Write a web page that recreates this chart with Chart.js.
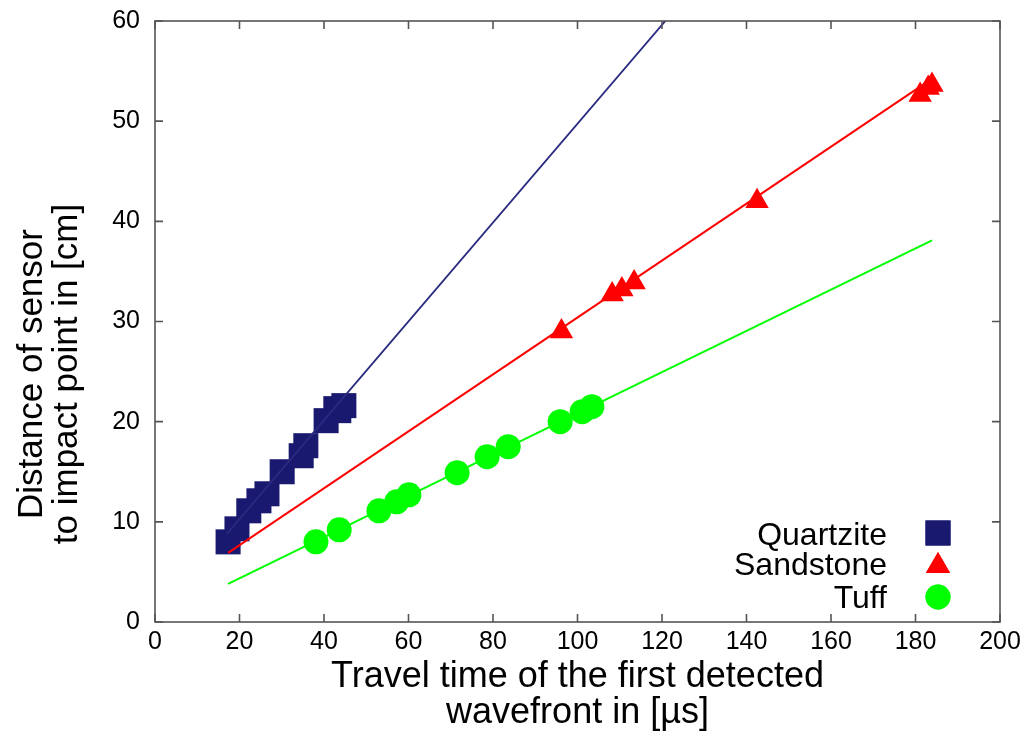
<!DOCTYPE html>
<html>
<head>
<meta charset="utf-8">
<title>Travel time vs distance</title>
<script src="https://cdn.jsdelivr.net/npm/chart.js@4.4.1/dist/chart.umd.min.js"></script>
<style>
  html, body { margin: 0; padding: 0; background: #ffffff; }
  #wrap { width: 1031px; height: 732px; position: relative; }
</style>
</head>
<body>
<div id="wrap"><canvas id="chart"></canvas></div>
<script>
// ── DATA ─────────────────────────────────────────────────────
const quartziteX = [17.3, 19.4, 22.2, 24.6, 26.5, 30.1, 34.6, 35.7, 40.5, 42.8, 43.5, 44.7];
const quartziteY = [8.0, 9.3, 11.1, 12.1, 12.8, 15.0, 16.6, 17.6, 20.1, 21.3, 21.1, 21.6];

const sandstoneX = [96.2, 108.2, 110.5, 113.4, 142.5, 181.1, 183.0, 183.9];
const sandstoneY = [29.0, 32.7, 33.2, 33.9, 42.0, 52.6, 53.3, 53.6];

const tuffX = [38.1, 43.6, 53.0, 57.2, 60.1, 71.5, 78.6, 83.6, 95.9, 101.1, 103.4];
const tuffY = [8.0, 9.2, 11.1, 12.0, 12.7, 14.9, 16.5, 17.5, 20.0, 21.0, 21.5];

// fitted lines, endpoints as drawn in the plot
const quartziteFitX = [17.0, 122.0];
const quartziteFitY = [8.8, 60.6];
const sandstoneFitX = [17.3, 183.4];
const sandstoneFitY = [6.9, 54.1];
const tuffFitX = [17.3, 183.9];
const tuffFitY = [3.8, 38.1];

const seriesNames = ['Quartzite', 'Sandstone', 'Tuff'];
const xTicks = [0, 20, 40, 60, 80, 100, 120, 140, 160, 180, 200];
const yTicks = [0, 10, 20, 30, 40, 50, 60];
const xTitle = ['Travel time of the first detected', 'wavefront in [µs]'];
const yTitle = ['Distance of sensor', 'to impact point in [cm]'];

const C_QUARTZ = '#191970';
const C_SAND = '#ff0000';
const C_TUFF = '#00ff00';
const FONT = "'Liberation Sans', Arial, Helvetica, sans-serif";

const pts = (xs, ys) => xs.map((x, i) => ({ x, y: ys[i] }));

// ── frame, inward ticks, axis titles and legend (gnuplot style) ──
const framePlugin = {
  id: 'frame',
  afterDraw(chart) {
    const { ctx, chartArea: a, scales } = chart;
    ctx.save();
    ctx.strokeStyle = '#555555';
    ctx.lineWidth = 1.6;
    ctx.strokeRect(a.left, a.top, a.right - a.left, a.bottom - a.top);
    const tl = 8;
    ctx.beginPath();
    xTicks.forEach(v => {
      const px = scales.x.getPixelForValue(v);
      ctx.moveTo(px, a.bottom); ctx.lineTo(px, a.bottom - tl);
      ctx.moveTo(px, a.top); ctx.lineTo(px, a.top + tl);
    });
    yTicks.forEach(v => {
      const py = scales.y.getPixelForValue(v);
      ctx.moveTo(a.left, py); ctx.lineTo(a.left + tl, py);
      ctx.moveTo(a.right, py); ctx.lineTo(a.right - tl, py);
    });
    ctx.stroke();

    // axis titles
    ctx.fillStyle = '#000000';
    ctx.font = `36px ${FONT}`;
    ctx.textAlign = 'center';
    ctx.textBaseline = 'alphabetic';
    const cx = (a.left + a.right) / 2;
    ctx.fillText(xTitle[0], cx, 687);
    ctx.fillText(xTitle[1], cx, 723);

    ctx.save();
    ctx.translate(0, 374);
    ctx.rotate(-Math.PI / 2);
    ctx.font = `35px ${FONT}`;
    ctx.fillText(yTitle[0], 0, 42);
    ctx.fillText(yTitle[1], 0, 77);
    ctx.restore();

    // legend, bottom right inside the plot
    const rows = [
      { style: 'rect', color: C_QUARTZ, r: 17.7, y: 533, base: 545 },
      { style: 'triangle', color: C_SAND, r: 14, y: 566, base: 575 },
      { style: 'circle', color: C_TUFF, r: 12.5, y: 597, base: 608 },
    ];
    ctx.font = `32px ${FONT}`;
    ctx.textAlign = 'right';
    rows.forEach((row, i) => {
      ctx.fillStyle = '#000000';
      ctx.fillText(seriesNames[i], 887, row.base);
      ctx.fillStyle = row.color;
      Chart.helpers.drawPoint(ctx, { pointStyle: row.style, radius: row.r, rotation: 0, borderWidth: 0 }, 938, row.y);
      ctx.fill();
    });
    ctx.restore();
  }
};

new Chart(document.getElementById('chart'), {
  type: 'scatter',
  data: {
    datasets: [
      {
        label: 'Tuff',
        data: pts(tuffX, tuffY),
        pointStyle: 'circle', pointRadius: 12.5, pointHoverRadius: 12.5,
        backgroundColor: C_TUFF, borderColor: C_TUFF, pointBorderWidth: 0,
        order: 1,
      },
      {
        label: 'Sandstone',
        data: pts(sandstoneX, sandstoneY),
        pointStyle: 'triangle', pointRadius: 13.5, pointHoverRadius: 13.5,
        backgroundColor: C_SAND, borderColor: C_SAND, pointBorderWidth: 0,
        order: 2,
      },
      {
        label: 'Tuff fit', type: 'line',
        data: pts(tuffFitX, tuffFitY),
        borderColor: C_TUFF, borderWidth: 2, pointRadius: 0, fill: false,
        order: 3,
      },
      {
        label: 'Sandstone fit', type: 'line',
        data: pts(sandstoneFitX, sandstoneFitY),
        borderColor: C_SAND, borderWidth: 2, pointRadius: 0, fill: false,
        order: 4,
      },
      {
        label: 'Quartzite fit', type: 'line',
        data: pts(quartziteFitX, quartziteFitY),
        borderColor: '#2a2a80', borderWidth: 1.8, pointRadius: 0, fill: false,
        order: 5,
      },
      {
        label: 'Quartzite',
        data: pts(quartziteX, quartziteY),
        pointStyle: 'rect', pointRadius: 17.7, pointHoverRadius: 17.7,
        backgroundColor: C_QUARTZ, borderColor: C_QUARTZ, pointBorderWidth: 0,
        order: 6,
      },
    ]
  },
  options: {
    responsive: true,
    maintainAspectRatio: false,
    animation: false,
    layout: { padding: { top: 21, right: 31, left: 0, bottom: 0 } },
    scales: {
      x: {
        type: 'linear', min: 0, max: 200,
        afterFit: s => { s.height = 110; s.paddingLeft = 0; s.paddingRight = 0; },
        afterBuildTicks: s => { s.ticks = xTicks.map(v => ({ value: v })); },
        grid: { display: false, drawTicks: false },
        border: { display: false },
        ticks: { padding: 5, maxRotation: 0, color: '#000000', font: { family: FONT, size: 25 } },
      },
      y: {
        type: 'linear', min: 0, max: 60,
        afterFit: s => { s.width = 155; s.paddingTop = 0; s.paddingBottom = 0; },
        afterBuildTicks: s => { s.ticks = yTicks.map(v => ({ value: v })); },
        grid: { display: false, drawTicks: false },
        border: { display: false },
        ticks: { padding: 15, color: '#000000', font: { family: FONT, size: 25 } },
      },
    },
    plugins: {
      legend: { display: false },
      tooltip: { enabled: false },
    },
  },
  plugins: [framePlugin],
});
</script>
</body>
</html>
